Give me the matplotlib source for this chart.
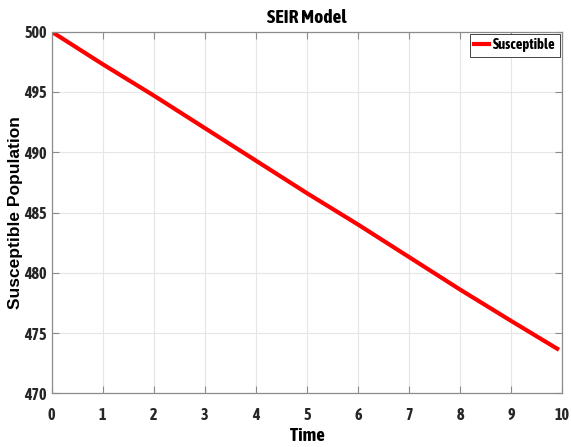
import matplotlib
matplotlib.use("Agg")
import matplotlib.pyplot as plt
from matplotlib import font_manager
from matplotlib.font_manager import FontProperties

time = [0, 1, 2, 3, 4, 5, 6, 7, 8, 9, 9.9]
susceptible = [500, 497.3, 494.7, 492.0, 489.3, 486.6, 484.0, 481.3, 478.6, 476.0, 473.7]
xticks = list(range(0, 11))
yticks = [470, 475, 480, 485, 490, 495, 500]

fl = font_manager.fontManager.ttflist


def find_narrow_bold():
    for f in fl:
        if ('Narrow' in f.name or 'Condensed' in f.name) and f.weight in (700, 'bold') and f.style == 'normal':
            return f.fname
    for f in fl:
        if f.stretch in ('condensed', 'semi-condensed', 'extra-condensed', 'ultra-condensed', 700, 600, 500) \
                and f.weight in (700, 'bold') and f.style == 'normal':
            return f.fname
    for f in fl:
        if 'Condensed' in f.fname and 'Bold' in f.fname and 'Oblique' not in f.fname and 'Italic' not in f.fname:
            return f.fname
    return None


nb = find_narrow_bold()


def fp(size):
    if nb:
        return FontProperties(fname=nb, size=size)
    return FontProperties(family='DejaVu Sans', weight='bold', size=size)


names = {f.name for f in fl}
wide = 'Liberation Sans' if 'Liberation Sans' in names else 'DejaVu Sans'

fig = plt.figure(figsize=(5.71, 4.47), dpi=100)
ax = fig.add_axes([0.0905, 0.1201, 0.8943, 0.8090])

ax.plot(time, susceptible, color='#ff0000', linewidth=3, label='Susceptible')

ax.set_xlim(0, 10)
ax.set_ylim(470, 500)
ax.set_xticks(xticks)
ax.set_yticks(yticks)
ax.grid(True, color='#e6e6e6', linewidth=0.8)
ax.set_axisbelow(True)
for s in ax.spines.values():
    s.set_color('#8c8c8c')
    s.set_linewidth(0.9)
ax.tick_params(direction='in', length=5, width=0.8, color='#8c8c8c',
               top=True, right=True)
ax.tick_params(axis='x', pad=9.5)
ax.tick_params(axis='y', pad=3.3)
for lab in ax.get_xticklabels() + ax.get_yticklabels():
    lab.set_fontproperties(fp(11.5))
    lab.set_color('#262626')

ax.set_title('SEIR Model', fontproperties=fp(14), pad=6)
ax.set_xlabel('Time', fontproperties=fp(13.5), labelpad=3)
ax.set_ylabel('Susceptible Population', fontfamily=wide, fontweight='bold', fontsize=12.5)
ax.yaxis.set_label_coords(-0.056, 0.5)

leg = ax.legend(loc='upper right', prop=fp(10.5),
                fancybox=False, framealpha=1, edgecolor='#262626', borderaxespad=0.15,
                handlelength=1.0, handletextpad=0.3, borderpad=0.3)
leg.get_frame().set_linewidth(0.6)

fig.savefig('out.png', dpi=100)
